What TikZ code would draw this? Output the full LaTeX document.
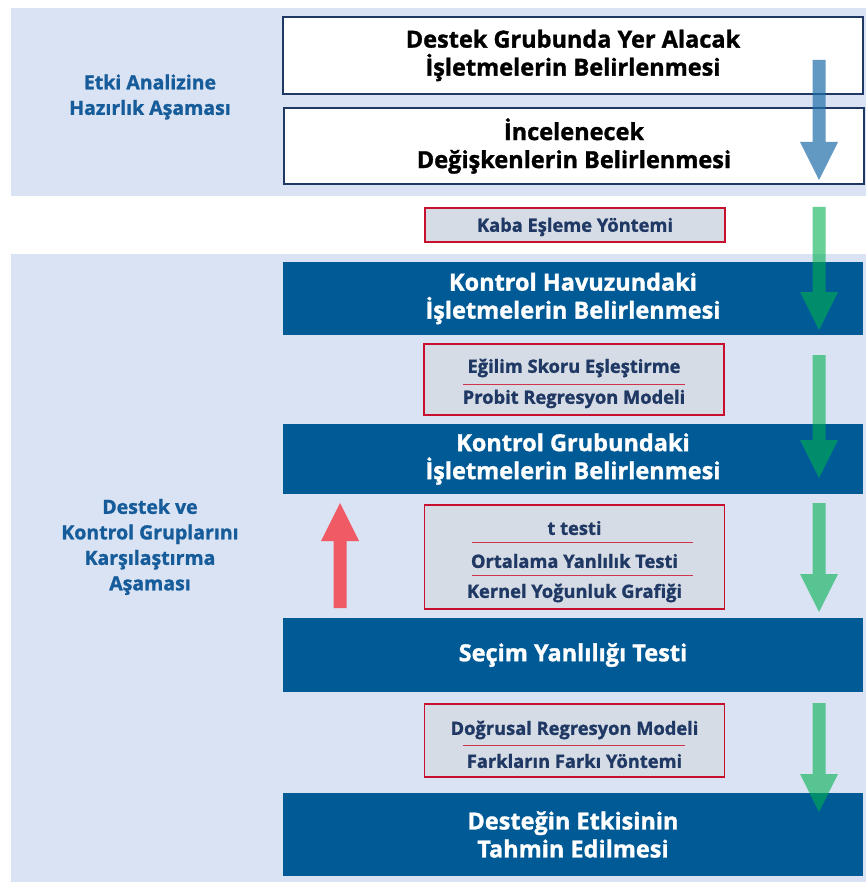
\documentclass[tikz,border=0pt]{standalone}
\usepackage{fontspec}
\setmainfont{Open Sans}[BoldFeatures={FakeBold=1.3}]

\definecolor{bandblue}{HTML}{DAE3F3}
\definecolor{boxblue}{HTML}{005A96}
\definecolor{navy}{HTML}{1F3864}
\definecolor{labelblue}{HTML}{165C9A}
\definecolor{methodfill}{HTML}{D6DCE5}
\definecolor{methodred}{HTML}{C8102E}
\definecolor{arrowblue}{HTML}{1F6FAA}
\definecolor{arrowgreen}{HTML}{00B050}
\definecolor{arrowred}{HTML}{F05A64}

% block arrow: [style]{x}{tail y}{length}
\newcommand{\blockarrow}[4][]{%
  \fill[shift={(#2,#3)}, #1] (-6.5,0) -- (6.5,0) -- (6.5,#4-38) -- (19,#4-38)
    -- (0,#4) -- (-19,#4-38) -- (-6.5,#4-38) -- cycle;}

\begin{document}
\begin{tikzpicture}[x=1pt,y=-1pt,
    band/.style={fill=bandblue},
    whitebox/.style={draw=navy, line width=1.2pt, fill=white, minimum width=580pt,
      minimum height=#1, inner sep=0pt, align=center,
      font=\fontsize{23.5}{28}\selectfont\bfseries},
    bluebox/.style={fill=boxblue, text=white, minimum width=580pt,
      minimum height=#1, inner sep=0pt, align=center,
      font=\fontsize{23.5}{28}\selectfont\bfseries},
    methodbox/.style={draw=methodred, line width=1.4pt, fill=methodfill,
      minimum width=300pt, minimum height=#1, inner sep=0pt},
    methodtext/.style={text=navy, inner sep=0pt, font=\fontsize{18.3}{20}\selectfont\bfseries},
    sepline/.style={draw=methodred!85, line width=0.7pt},
    phase/.style={text=labelblue, align=center, font=\fontsize{19.5}{25.5}\selectfont\bfseries},
    godown/.style={fill=arrowgreen, opacity=0.6},
  ]
  \useasboundingbox (0,0) rectangle (866,882);

  % Background bands
  \fill[band] (11,8) rectangle (866,196);
  \fill[band] (11,254) rectangle (866,882);

  % Phase labels
  \node[phase] (hazirlik) at (150,97) {Etki Analizine\\Hazırlık Aşaması};
  \node[phase] (karsilastirma) at (150,547) {Destek ve\\Kontrol Gruplarını\\Karşılaştırma\\Aşaması};

  % Preparation steps
  \node[whitebox=77pt] (destek) at (573,55.5) {Destek Grubunda Yer Alacak\\İşletmelerin Belirlenmesi};
  \node[whitebox=76pt] (degisken) at (574,146) {İncelenecek\\Değişkenlerin Belirlenmesi};

  % Comparison steps
  \node[bluebox=73pt] (havuz) at (573,298.5) {Kontrol Havuzundaki\\İşletmelerin Belirlenmesi};
  \node[bluebox=70pt] (grup) at (573,459) {Kontrol Grubundaki\\İşletmelerin Belirlenmesi};
  \node[bluebox=74pt] (secim) at (573,655) {Seçim Yanlılığı Testi};
  \node[bluebox=83pt] (etki) at (573,834.5) {Desteğin Etkisinin\\Tahmin Edilmesi};

  % Methods
  \node[methodbox=34pt] (kaba) at (575,225) {};
  \node[methodtext] (kaba1) at (575,227) {Kaba Eşleme Yöntemi};

  \node[methodbox=71pt] (egilim) at (574,379.5) {};
  \node[methodtext] (egilim1) at (574,368) {Eğilim Skoru Eşleştirme};
  \node[methodtext] (egilim2) at (574,399) {Probit Regresyon Modeli};
  \draw[sepline] (463,384.5) -- (685,384.5);

  \node[methodbox=104pt] (testler) at (574.5,557) {};
  \node[methodtext] (testler1) at (574.5,528) {t testi};
  \node[methodtext] (testler2) at (574.5,561) {Ortalama Yanlılık Testi};
  \node[methodtext] (testler3) at (574.5,593) {Kernel Yoğunluk Grafiği};
  \draw[sepline] (472,542) -- (693,542);
  \draw[sepline] (472,575) -- (693,575);

  \node[methodbox=73pt] (regresyon) at (574.5,740.5) {};
  \node[methodtext] (regresyon1) at (574.5,730) {Doğrusal Regresyon Modeli};
  \node[methodtext] (regresyon2) at (574.5,761) {Farkların Farkı Yöntemi};
  \draw[sepline] (463,745) -- (685,745);

  % Flow arrows
  \blockarrow[fill=arrowblue, opacity=0.7]{819}{60}{120}
  \blockarrow[godown]{819}{207}{123}
  \blockarrow[godown]{819}{355}{123}
  \blockarrow[godown]{819}{503}{109}
  \blockarrow[godown]{819}{703}{109}
  \blockarrow[fill=arrowred, yscale=-1]{340}{608}{105}
\end{tikzpicture}
\end{document}
